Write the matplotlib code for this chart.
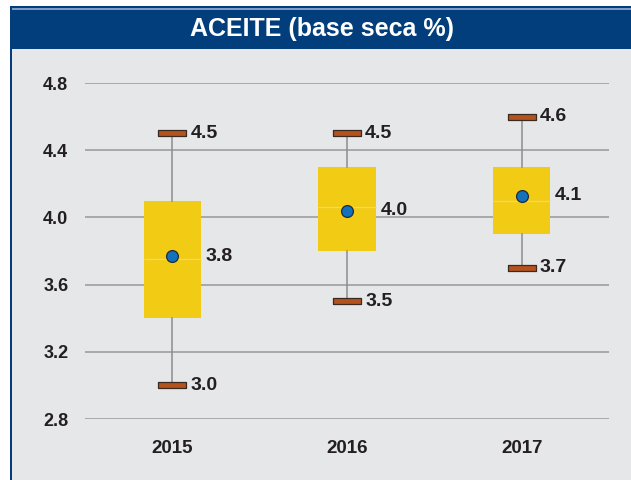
import matplotlib.pyplot as plt
from matplotlib.patches import Rectangle
from matplotlib.path import Path

# Data
years = ["2015", "2016", "2017"]
q1 = [3.40, 3.80, 3.90]
q3 = [4.10, 4.30, 4.30]
medians = [3.75, 4.06, 4.10]
means = [3.77, 4.04, 4.13]
whisk_lo = [3.0, 3.5, 3.7]
whisk_hi = [4.5, 4.5, 4.6]
yticks = [2.8, 3.2, 3.6, 4.0, 4.4, 4.8]

bg = "#e6e7e9"
navy = "#023d7c"
txt = "#231f20"

fig = plt.figure(figsize=(6.31, 4.80), dpi=100, facecolor="white")

# frame: gray panel, navy header, left border
fig.patches.append(Rectangle((11 / 631, 0), 1, 431 / 480, transform=fig.transFigure,
                             facecolor=bg, edgecolor="none", zorder=0))
fig.patches.append(Rectangle((10 / 631, 431 / 480), 1, 43 / 480, transform=fig.transFigure,
                             facecolor=navy, edgecolor="none", zorder=0))
fig.patches.append(Rectangle((12 / 631, 470.5 / 480), 1, 1.2 / 480, transform=fig.transFigure,
                             facecolor="#7f9cc4", edgecolor="none", zorder=1))
fig.patches.append(Rectangle((10 / 631, 0), 2 / 631, 474 / 480, transform=fig.transFigure,
                             facecolor=navy, edgecolor="none", zorder=1))

fig.text(322 / 631, 451 / 480, "ACEITE (base seca %)", color="white",
         ha="center", va="center", fontsize=18, fontweight="bold",
         family="Liberation Sans")

ax = fig.add_axes([85 / 631, 61 / 480, 524 / 631, 336 / 480], zorder=3)
ax.set_facecolor(bg)

stats = []
for i in range(len(years)):
    stats.append(dict(label=years[i], q1=q1[i], q3=q3[i], med=medians[i],
                      mean=means[i], whislo=whisk_lo[i], whishi=whisk_hi[i]))

ax.bxp(stats, positions=range(len(years)), widths=0.33, patch_artist=True,
       showmeans=True, showcaps=False, showfliers=False,
       boxprops=dict(facecolor="#f2cb14", edgecolor="none"),
       medianprops=dict(color="#f6d95a", lw=1),
       whiskerprops=dict(color="#8c8c8c", lw=1.1),
       meanprops=dict(marker="o", markerfacecolor="#1372bb", markeredgecolor="#1b2a40",
                      markersize=8.5, markeredgewidth=0.9),
       zorder=3)

# brown caps as flat rectangle markers
cap = Path([(-1, -0.2), (1, -0.2), (1, 0.2), (-1, 0.2), (-1, -0.2)],
           [Path.MOVETO, Path.LINETO, Path.LINETO, Path.LINETO, Path.CLOSEPOLY])
for i in range(len(years)):
    for v in (whisk_lo[i], whisk_hi[i]):
        ax.plot(i, v, marker=cap, markersize=20, markerfacecolor="#b5531f",
                markeredgecolor="#3b2a22", markeredgewidth=0.9, zorder=4)
        ax.annotate(f"{v:.1f}", (i, v), xytext=(13, 0), textcoords="offset points",
                    va="center", ha="left", fontsize=14, fontweight="bold", color=txt,
                    family="Liberation Sans")
    ax.annotate(f"{means[i]:.1f}", (i, means[i]), xytext=(24, 0), textcoords="offset points",
                va="center", ha="left", fontsize=14, fontweight="bold", color=txt,
                family="Liberation Sans")

ax.set_xlim(-0.5, 2.5)
ax.set_ylim(2.8, 4.8)
ax.set_yticks(yticks)
ax.set_yticklabels([f"{t:.1f}" for t in yticks])
ax.set_xticks(range(len(years)))
ax.set_xticklabels(years)
for lab in ax.get_yticklabels():
    lab.set_fontweight("bold")
    lab.set_fontsize(13)
    lab.set_color(txt)
    lab.set_family("Liberation Sans")
for lab in ax.get_xticklabels():
    lab.set_fontweight("bold")
    lab.set_fontsize(13.5)
    lab.set_color(txt)
    lab.set_family("Liberation Sans")
ax.tick_params(axis="y", length=0, pad=12)
ax.tick_params(axis="x", length=0, pad=15)
ax.yaxis.grid(True, color="#a4a4a4", lw=1.3)
ax.set_axisbelow(True)
for s in ax.spines.values():
    s.set_visible(False)

fig.savefig("out.png", dpi=100, facecolor=fig.get_facecolor())
